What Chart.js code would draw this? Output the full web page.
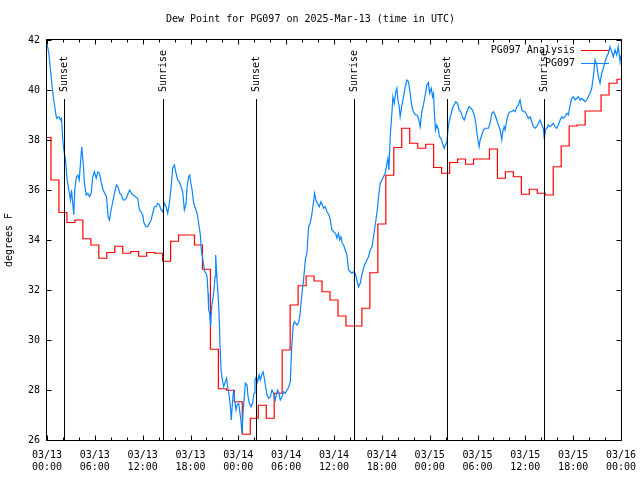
<!DOCTYPE html>
<html>
<head>
<meta charset="utf-8">
<title>Dew Point for PG097</title>
<script src="https://cdn.jsdelivr.net/npm/chart.js@4.4.1/dist/chart.umd.min.js"></script>
<style>
  html, body { margin: 0; padding: 0; background: #fff; }
  canvas { display: block; }
</style>
</head>
<body>
<canvas id="dewChart" width="640" height="480"></canvas>
<script>
// Hours since 03/13 00:00 UTC
const tickDates = ['03/13', '03/13', '03/13', '03/13', '03/14', '03/14', '03/14', '03/14', '03/15', '03/15', '03/15', '03/15', '03/16'];
const tickTimes = ['00:00', '06:00', '12:00', '18:00', '00:00', '06:00', '12:00', '18:00', '00:00', '06:00', '12:00', '18:00', '00:00'];

const eventNames = ['Sunset', 'Sunrise', 'Sunset', 'Sunrise', 'Sunset', 'Sunrise'];
const eventHours = [2.1, 14.5, 26.17, 38.45, 50.23, 62.39];

// hourly analysis values, hour 0..72
const analysisValues = [
  38.1, 36.4, 35.1, 34.7, 34.8, 34.05, 33.8, 33.27, 33.5, 33.75,
  33.47, 33.54, 33.35, 33.5, 33.47, 33.15, 33.95, 34.2, 34.2, 33.8,
  32.83, 29.63, 28.05, 27.99, 27.53, 26.23, 26.87, 27.39, 26.87, 27.87,
  29.6, 31.4, 32.17, 32.56, 32.36, 31.93, 31.6, 30.96, 30.56, 30.56,
  31.27, 32.69, 34.64, 36.59, 37.7, 38.47, 37.87, 37.67, 37.83, 36.9,
  36.67, 37.1, 37.24, 37.03, 37.24, 37.24, 37.64, 36.47, 36.73, 36.53,
  35.83, 36.03, 35.87, 35.8, 36.93, 37.76, 38.56, 38.6, 39.16, 39.16,
  39.8, 40.27, 40.43
];

// station observations
const obsHours = [
  0.03, 0.23, 0.35, 0.56, 0.78, 0.94, 1.19, 1.48, 1.69, 1.82,
  1.98, 2.11, 2.32, 2.53, 2.73, 2.95, 3.07, 3.23, 3.36, 3.48,
  3.70, 3.86, 4.04, 4.20, 4.36, 4.54, 4.70, 4.91, 5.11, 5.33,
  5.54, 5.74, 5.95, 6.17, 6.37, 6.58, 6.83, 7.04, 7.24, 7.46,
  7.67, 7.83, 8.05, 8.25, 8.46, 8.71, 8.92, 9.12, 9.34, 9.55,
  9.75, 9.96, 10.18, 10.38, 10.59, 10.80, 11.09, 11.38, 11.59, 11.81,
  12.01, 12.13, 12.38, 12.63, 12.85, 13.06, 13.26, 13.47, 13.69, 13.89,
  14.10, 14.31, 14.51, 14.73, 14.94, 15.14, 15.35, 15.57, 15.77, 15.98,
  16.19, 16.39, 16.61, 16.82, 17.02, 17.23, 17.45, 17.57, 17.77, 17.90,
  17.98, 18.20, 18.40, 18.61, 18.82, 19.02, 19.24, 19.36, 19.53, 19.65,
  19.78, 19.95, 20.08, 20.20, 20.28, 20.40, 20.53, 20.65, 20.78, 20.90,
  21.08, 21.16, 21.24, 21.33, 21.46, 21.58, 21.71, 21.83, 22.00, 22.16,
  22.37, 22.53, 22.66, 22.84, 23.00, 23.12, 23.25, 23.41, 23.54, 23.71,
  23.84, 24.04, 24.16, 24.34, 24.46, 24.59, 24.72, 24.88, 25.09, 25.22,
  25.38, 25.59, 25.79, 25.97, 26.09, 26.26, 26.42, 26.60, 26.76, 26.92,
  27.10, 27.26, 27.42, 27.60, 27.80, 28.01, 28.22, 28.42, 28.64, 28.76,
  28.93, 29.10, 29.26, 29.48, 29.68, 29.89, 30.10, 30.30, 30.52, 30.68,
  30.86, 31.02, 31.18, 31.36, 31.56, 31.73, 31.98, 32.18, 32.40, 32.61,
  32.81, 33.02, 33.24, 33.44, 33.56, 33.78, 33.94, 34.15, 34.37, 34.53,
  34.69, 34.90, 35.12, 35.37, 35.53, 35.74, 35.94, 36.20, 36.37, 36.57,
  36.70, 36.87, 37.04, 37.20, 37.41, 37.62, 37.82, 38.04, 38.25, 38.45,
  38.66, 38.87, 39.08, 39.29, 39.50, 39.70, 39.92, 40.13, 40.33, 40.54,
  40.76, 40.96, 41.17, 41.38, 41.58, 41.80, 42.01, 42.21, 42.42, 42.64,
  42.76, 42.89, 43.05, 43.26, 43.39, 43.55, 43.72, 43.89, 44.02, 44.18,
  44.30, 44.52, 44.72, 44.93, 45.14, 45.34, 45.56, 45.77, 45.97, 46.19,
  46.40, 46.60, 46.81, 47.00, 47.19, 47.44, 47.65, 47.85, 47.98, 48.20,
  48.35, 48.48, 48.60, 48.73, 48.90, 49.10, 49.23, 49.40, 49.61, 49.82,
  49.98, 50.16, 50.32, 50.48, 50.66, 50.86, 51.07, 51.28, 51.49, 51.70,
  51.91, 52.11, 52.33, 52.54, 52.74, 52.95, 53.17, 53.37, 53.58, 53.79,
  53.99, 54.21, 54.33, 54.54, 54.74, 54.96, 55.17, 55.37, 55.58, 55.80,
  56.00, 56.21, 56.42, 56.62, 56.84, 57.05, 57.17, 57.34, 57.46, 57.68,
  57.88, 58.09, 58.30, 58.50, 58.72, 58.93, 59.13, 59.34, 59.56, 59.76,
  59.97, 60.18, 60.38, 60.60, 60.81, 61.01, 61.23, 61.44, 61.64, 61.85,
  62.06, 62.26, 62.39, 62.51, 62.69, 62.89, 63.10, 63.32, 63.52, 63.73,
  63.94, 64.14, 64.36, 64.57, 64.77, 64.98, 65.20, 65.40, 65.61, 65.82,
  66.02, 66.24, 66.45, 66.65, 66.86, 67.07, 67.28, 67.49, 67.70, 67.90,
  68.12, 68.33, 68.53, 68.74, 68.96, 69.16, 69.37, 69.58, 69.78, 70.00,
  70.21, 70.41, 70.62, 70.83, 71.04, 71.25, 71.46, 71.66, 71.88, 72.00
];
const obsValues = [
  41.8, 41.47, 41.07, 40.4, 39.73, 39.4, 38.87, 38.93, 38.8, 38.87,
  38.0, 37.6, 37.2, 36.4, 36.0, 35.6, 36.0, 35.47, 35.0, 36.0,
  36.53, 36.6, 36.4, 37.07, 37.73, 37.07, 36.27, 35.8, 35.87, 35.73,
  35.87, 36.53, 36.73, 36.47, 36.73, 36.67, 36.27, 36.0, 35.87, 35.73,
  34.93, 34.8, 35.2, 35.53, 35.87, 36.2, 36.13, 35.87, 35.8, 35.6,
  35.6, 35.67, 35.87, 36.0, 35.87, 35.8, 35.73, 35.67, 35.2, 35.13,
  35.0, 34.73, 34.53, 34.53, 34.67, 34.8, 35.07, 35.33, 35.33, 35.47,
  35.4, 35.2, 35.13, 35.47, 35.33, 35.07, 35.47, 36.13, 36.87, 37.0,
  36.67, 36.4, 36.33, 36.13, 35.93, 35.2, 35.47, 36.13, 36.53, 36.6,
  36.4, 36.0, 35.47, 35.27, 35.07, 34.67, 34.2, 33.6, 33.27, 33.0,
  32.73, 32.67, 32.53, 31.87, 31.2, 31.07, 30.53, 31.33, 31.6, 31.87,
  32.53, 33.4, 32.93, 32.4, 31.8, 31.07, 29.73, 28.8, 28.4, 28.13,
  28.33, 28.47, 28.13, 27.8, 27.33, 26.8, 27.47, 28.0, 27.6, 27.2,
  27.4, 27.47, 27.2, 26.73, 26.27, 27.07, 27.6, 28.27, 28.2, 27.73,
  27.47, 27.33, 27.47, 27.87, 28.4, 28.53, 28.33, 28.6, 28.4, 28.6,
  28.73, 28.47, 28.13, 27.8, 27.67, 27.73, 28.0, 27.87, 27.6, 27.8,
  28.0, 27.87, 27.6, 27.73, 27.93, 27.87, 28.0, 28.1, 28.33, 29.6,
  30.53, 30.73, 30.67, 30.6, 30.7, 31.0, 31.87, 32.4, 33.2, 33.5,
  34.53, 34.67, 35.07, 35.55, 35.87, 35.53, 35.47, 35.33, 35.53, 35.4,
  35.27, 35.33, 35.13, 35.0, 34.8, 34.4, 34.33, 34.27, 34.07, 34.27,
  34.0, 34.13, 33.87, 33.8, 33.6, 33.4, 32.8, 32.73, 32.67, 32.73,
  32.67, 32.4, 32.13, 32.27, 32.6, 32.87, 33.07, 33.2, 33.33, 33.6,
  33.73, 34.13, 34.6, 35.07, 35.7, 36.27, 36.4, 36.53, 36.67, 37.07,
  37.27, 36.8, 38.13, 39.07, 39.73, 39.47, 39.87, 40.07, 39.6, 39.33,
  38.93, 39.4, 39.73, 40.13, 40.4, 40.33, 39.87, 39.33, 39.13, 39.0,
  39.0, 38.87, 38.53, 39.1, 39.35, 39.8, 40.2, 40.3, 39.87, 40.07,
  39.73, 39.87, 39.07, 38.4, 38.6, 38.4, 38.13, 38.07, 37.87, 37.67,
  37.8, 37.93, 38.47, 38.8, 39.0, 39.27, 39.4, 39.53, 39.47, 39.2,
  39.13, 38.93, 38.8, 39.0, 39.2, 39.33, 39.27, 39.2, 39.0, 38.67,
  38.13, 37.73, 38.0, 38.2, 38.4, 38.47, 38.47, 38.47, 38.67, 39.07,
  39.13, 39.0, 38.8, 38.6, 38.4, 38.0, 38.33, 38.53, 38.4, 38.8,
  39.07, 39.13, 39.13, 39.2, 39.13, 39.33, 39.4, 39.6, 39.2, 39.13,
  39.13, 39.0, 38.87, 38.93, 38.73, 38.53, 38.47, 38.53, 38.67, 38.8,
  38.6, 38.47, 38.0, 38.4, 38.47, 38.6, 38.53, 38.6, 38.67, 38.53,
  38.47, 38.6, 38.8, 38.93, 38.87, 38.93, 39.07, 39.0, 39.4, 39.67,
  39.73, 39.6, 39.67, 39.73, 39.6, 39.67, 39.6, 39.53, 39.6, 39.73,
  39.87, 40.07, 40.53, 41.2, 41.0, 40.53, 40.27, 40.67, 40.87, 41.13,
  41.33, 41.47, 41.73, 41.53, 41.33, 41.6, 41.4, 41.73, 41.13, 41.4
];

const FONT = "'DejaVu Sans Mono', 'Liberation Mono', monospace";
Chart.defaults.font.family = FONT;
Chart.defaults.font.size = 10;
Chart.defaults.color = '#000';

// frame with inward ticks, sunrise/sunset markers and the legend
const gnuplotDecor = {
    id: 'gnuplotDecor',
    afterDatasetsDraw(chart) {
        const ctx = chart.ctx;
        const a = chart.chartArea;
        const xs = chart.scales.x;
        const ys = chart.scales.y;
        ctx.save();
        ctx.strokeStyle = '#000';
        ctx.fillStyle = '#000';
        ctx.lineWidth = 1;
        ctx.font = '10px ' + FONT;

        // sunrise / sunset
        eventHours.forEach(function (h, i) {
            const px = Math.round(xs.getPixelForValue(h)) + 0.5;
            ctx.beginPath();
            ctx.moveTo(px, a.top + 59);
            ctx.lineTo(px, a.bottom);
            ctx.stroke();
            ctx.save();
            ctx.translate(px, a.top + 52);
            ctx.rotate(-Math.PI / 2);
            ctx.textAlign = 'left';
            ctx.textBaseline = 'middle';
            ctx.fillText(eventNames[i], 0, 0);
            ctx.restore();
        });

        // border
        const L = a.left - 0.5, R = a.right + 0.5, T = a.top - 0.5, B = a.bottom + 0.5;
        ctx.strokeRect(L, T, R - L, B - T);

        // ticks
        ctx.beginPath();
        for (let h = 0; h <= 72; h += 2) {
            const px = Math.round(xs.getPixelForValue(h)) + 0.5;
            const len = h % 6 === 0 ? 5 : 3;
            ctx.moveTo(px, B); ctx.lineTo(px, B - len);
            ctx.moveTo(px, T); ctx.lineTo(px, T + len);
        }
        for (let v = 26; v <= 42; v += 2) {
            const py = Math.round(ys.getPixelForValue(v)) + 0.5;
            ctx.moveTo(L, py); ctx.lineTo(L + 5, py);
            ctx.moveTo(R, py); ctx.lineTo(R - 5, py);
        }
        ctx.stroke();

        // legend
        ctx.textAlign = 'right';
        ctx.textBaseline = 'middle';
        chart.data.datasets.forEach(function (ds, i) {
            const ly = a.top + 10.5 + i * 13;
            ctx.fillStyle = '#000';
            ctx.fillText(ds.label, a.right - 46, ly);
            ctx.strokeStyle = ds.borderColor;
            ctx.beginPath();
            ctx.moveTo(a.right - 40, ly);
            ctx.lineTo(a.right - 12, ly);
            ctx.stroke();
        });
        ctx.restore();
    }
};

function createChart() {
    const ctx = document.getElementById('dewChart').getContext('2d');
    const analysisPoints = analysisValues.map(function (v, i) { return { x: i, y: v }; });
    const obsPoints = obsHours.map(function (h, i) { return { x: h, y: obsValues[i] }; });

    new Chart(ctx, {
        type: 'line',
        data: {
            datasets: [{
                label: 'PG097 Analysis',
                data: analysisPoints,
                borderColor: '#ff0000',
                borderWidth: 1.2,
                stepped: 'middle',
                pointRadius: 0,
                order: 1
            }, {
                label: 'PG097',
                data: obsPoints,
                borderColor: '#0a84ff',
                borderWidth: 1.2,
                pointRadius: 0,
                tension: 0,
                order: 0
            }]
        },
        options: {
            responsive: false,
            animation: false,
            devicePixelRatio: 1,
            layout: { padding: { left: 0, right: 19, top: 0, bottom: 0 } },
            plugins: {
                legend: { display: false },
                tooltip: { enabled: false },
                title: {
                    display: true,
                    text: 'Dew Point for PG097 on 2025-Mar-13 (time in UTC)',
                    font: { size: 10, weight: 'normal' },
                    color: '#000',
                    padding: { top: 13, bottom: 15 }
                }
            },
            scales: {
                x: {
                    type: 'linear',
                    min: 0,
                    max: 72,
                    grid: { display: false, drawTicks: false },
                    border: { display: false },
                    ticks: {
                        stepSize: 6,
                        autoSkip: false,
                        maxRotation: 0,
                        padding: 9,
                        callback: function (value) {
                            const i = Math.round(value / 6);
                            return [tickDates[i], tickTimes[i]];
                        }
                    },
                    afterFit: function (scale) {
                        scale.height = 40;
                        scale.paddingLeft = 0;
                        scale.paddingRight = 0;
                    }
                },
                y: {
                    min: 26,
                    max: 42,
                    grid: { display: false, drawTicks: false },
                    border: { display: false },
                    ticks: { stepSize: 2, padding: 7 },
                    title: {
                        display: true,
                        text: 'degrees F',
                        padding: { top: 3, bottom: 0 }
                    },
                    afterFit: function (scale) { scale.width = 47; }
                }
            }
        },
        plugins: [gnuplotDecor]
    });
}

document.addEventListener('DOMContentLoaded', createChart);
</script>
</body>
</html>
